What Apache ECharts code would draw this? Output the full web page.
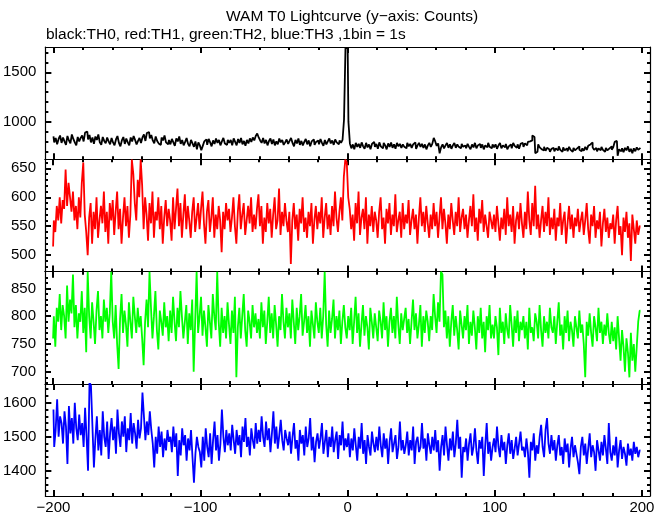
<!DOCTYPE html>
<html><head><meta charset="utf-8">
<script src="https://cdn.jsdelivr.net/npm/echarts@6/dist/echarts.min.js"></script>
<style>html,body{margin:0;padding:0;background:#fff}#c{width:669px;height:515px}</style>
</head><body><div id="c"></div>
<script>
// Bin start time (s) of the first value; 1 bin = 1 s
const binStart = -200;
const binWidth = 1;

const th0 = [
850,790,835,770,825,860,785,840,800,765,855,810,780,870,825,790,760,845,800,835,
860,800,890,900,820,865,790,840,775,850,815,870,790,765,845,805,780,840,800,770,
835,790,760,820,855,785,750,810,845,775,830,790,760,840,800,855,815,770,805,835,
785,840,870,805,885,895,830,865,810,780,850,805,780,765,840,810,860,790,770,815,
770,825,790,755,830,800,850,775,815,760,795,835,775,750,815,780,745,800,720,790,
760,710,755,800,820,765,825,790,750,810,775,830,785,815,760,800,835,780,765,815,
785,815,760,830,795,760,825,785,835,770,805,755,815,780,830,795,840,810,855,880,
840,810,785,835,780,815,760,805,830,775,820,760,800,770,830,790,815,765,790,820,
775,805,835,785,750,815,780,830,765,805,760,795,825,770,810,750,800,820,765,795,
810,770,825,785,755,815,770,800,830,780,810,765,820,790,770,810,785,815,1020,1745,
1745,1000,780,730,770,720,785,745,775,735,790,750,725,785,740,770,720,775,795,745,
775,725,790,750,730,785,760,720,780,745,790,735,770,725,785,750,775,735,770,745,
730,785,750,775,735,770,790,725,760,785,745,775,735,770,720,760,785,745,775,835,
800,755,780,680,740,770,730,760,785,735,770,725,760,785,735,770,745,730,775,745,
760,730,775,745,720,770,740,785,730,760,775,735,770,720,760,740,785,745,730,770,
740,770,725,760,785,730,760,740,775,720,750,770,730,785,755,735,770,725,775,785,
745,780,760,795,800,810,860,845,680,695,770,740,720,710,745,705,735,720,695,725,
735,700,730,710,750,715,695,740,710,730,700,745,715,695,735,710,730,750,715,700,
730,705,745,715,755,770,790,740,715,735,700,730,710,745,715,695,735,710,730,750,
715,740,795,805,655,720,700,730,690,735,710,750,695,725,680,730,700,740,715,735
];
const th1 = [
515,560,540,585,560,600,555,595,580,648,585,625,600,575,610,560,585,545,600,565,
625,660,570,540,500,565,590,520,575,545,600,530,560,585,555,610,540,575,520,590,
560,595,535,575,610,545,580,520,565,600,550,585,530,570,665,640,590,560,630,600,
665,620,545,600,570,525,590,555,610,530,575,560,600,545,585,520,565,595,550,580,
560,525,600,545,580,615,550,590,530,570,605,545,585,560,530,575,600,540,565,590,
545,580,610,555,520,575,595,540,565,600,530,570,545,585,560,505,575,545,590,560,
580,540,565,600,550,520,575,605,545,570,590,535,560,585,555,600,540,570,545,580,
605,550,585,520,565,540,590,555,580,530,570,600,545,560,615,535,575,550,590,560,
540,575,485,560,590,545,570,525,580,555,600,540,565,530,575,550,590,520,560,585,
545,575,555,600,530,565,590,545,570,535,585,550,610,565,540,575,600,560,635,665,
660,600,580,545,570,525,590,555,610,535,565,580,545,600,520,570,550,585,540,575,
560,530,575,600,545,565,520,580,555,590,535,570,550,605,540,560,575,530,590,545,
570,555,595,535,560,580,545,570,520,565,600,550,575,540,585,555,530,570,545,590,
550,575,530,565,600,545,580,555,520,570,545,590,560,535,575,550,600,540,565,580,
545,570,530,560,585,550,605,540,565,525,580,555,595,540,570,550,530,575,560,545,
570,540,585,555,525,565,545,580,535,600,550,570,540,585,520,560,575,545,590,555,
530,575,545,610,560,535,590,550,620,545,570,530,560,585,540,575,550,600,535,565,
545,580,525,565,550,590,535,560,575,520,555,585,545,570,530,565,550,580,540,560,
575,535,560,590,545,520,570,550,585,530,560,545,575,515,555,580,540,565,530,555,
545,570,520,560,585,535,550,500,565,540,575,530,555,490,570,545,520,560,535,550
];
const th2 = [
760,800,745,815,790,840,775,820,800,760,855,790,830,805,875,780,820,760,805,790,
845,770,815,735,880,800,760,825,790,750,810,845,775,800,760,830,790,815,770,805,
880,790,760,820,750,705,795,840,770,810,785,745,825,790,760,835,800,770,815,780,
800,760,712,790,830,780,880,815,760,800,845,775,740,810,790,765,825,780,800,755,
810,770,835,790,755,815,780,845,800,760,790,820,750,805,775,830,700,790,880,770,
800,835,765,810,780,745,820,790,760,840,800,775,880,790,745,815,770,800,760,825,
785,750,810,770,835,690,780,815,760,800,840,775,745,810,790,760,820,780,805,770,
795,760,825,780,810,750,790,835,770,805,760,820,785,745,800,775,840,790,760,815,
780,805,760,830,790,750,815,775,800,840,765,790,820,770,800,745,810,785,760,825,
790,770,815,760,800,880,785,745,810,770,795,830,760,800,775,810,750,790,820,780,
760,800,775,815,750,790,835,770,805,745,785,820,765,800,780,740,815,790,760,805,
780,755,810,790,760,825,775,800,745,790,815,770,800,760,835,785,750,805,775,795,
815,770,795,750,790,830,775,805,760,785,820,745,800,770,810,790,755,800,775,840,
800,770,825,790,880,875,780,810,760,800,745,790,820,765,800,775,740,810,785,760,
800,775,820,750,790,765,810,780,740,800,770,815,760,790,735,800,775,820,760,785,
760,800,780,730,815,770,790,750,805,775,760,820,785,745,800,770,810,755,790,775,
800,760,790,740,815,770,780,755,805,790,760,820,775,745,800,770,790,760,815,780,
770,800,750,790,825,765,785,740,800,770,810,755,790,775,745,800,780,760,810,770,
785,750,690,790,765,805,770,745,800,780,755,815,770,790,750,785,765,805,770,750,
790,755,780,740,800,760,720,775,745,700,760,735,690,770,720,750,700,745,790,810
];
const th3 = [
1580,1470,1520,1610,1500,1560,1540,1480,1575,1530,1420,1590,1510,1555,1480,1600,1525,1490,1565,1505,
1540,1470,1585,1500,1400,1660,1650,1530,1410,1495,1560,1460,1520,1445,1575,1500,1470,1545,1435,1510,
1555,1490,1530,1450,1580,1510,1470,1545,1500,1560,1455,1525,1490,1570,1480,1540,1510,1465,1550,1495,
1525,1630,1560,1490,1545,1505,1575,1520,1480,1410,1500,1450,1530,1470,1515,1440,1495,1460,1520,1485,
1500,1455,1530,1470,1510,1385,1490,1445,1525,1475,1505,1430,1495,1460,1520,1440,1365,1450,1500,1470,
1455,1410,1500,1430,1525,1470,1440,1510,1420,1490,1545,1460,1505,1430,1480,1580,1500,1455,1520,1475,
1510,1460,1535,1490,1450,1520,1475,1505,1440,1530,1485,1555,1470,1500,1445,1525,1490,1465,1540,1480,
1520,1485,1560,1500,1470,1545,1490,1525,1455,1510,1575,1480,1530,1465,1505,1550,1490,1460,1520,1495,
1475,1515,1450,1500,1540,1465,1490,1430,1520,1480,1505,1445,1530,1470,1495,1555,1460,1500,1425,1485,
1510,1465,1495,1540,1450,1485,1520,1440,1500,1470,1530,1455,1490,1515,1435,1505,1475,1545,1460,1495,
1470,1510,1440,1495,1460,1525,1475,1430,1500,1465,1540,1450,1490,1420,1505,1470,1445,1515,1480,1455,
1500,1460,1530,1475,1440,1510,1465,1495,1420,1485,1525,1455,1480,1505,1435,1470,1545,1460,1490,1450,
1475,1515,1445,1490,1460,1530,1420,1485,1500,1455,1470,1540,1465,1495,1430,1510,1475,1450,1500,1460,
1520,1455,1490,1400,1470,1505,1445,1530,1475,1430,1495,1460,1515,1440,1480,1550,1465,1500,1380,1470,
1455,1495,1430,1480,1510,1445,1470,1525,1460,1420,1490,1465,1500,1385,1475,1540,1450,1485,1430,1470,
1495,1455,1530,1470,1440,1505,1460,1485,1420,1475,1510,1450,1490,1435,1465,1500,1445,1480,1515,1460,
1470,1440,1495,1455,1380,1485,1460,1510,1430,1475,1450,1500,1535,1470,1440,1520,1555,1480,1450,1505,
1460,1490,1430,1475,1505,1445,1470,1420,1495,1455,1480,1410,1465,1500,1440,1475,1450,1425,1390,1470,
1500,1445,1480,1420,1465,1510,1440,1475,1455,1400,1490,1460,1430,1485,1445,1505,1465,1420,1540,1455,
1430,1475,1445,1500,1410,1460,1490,1435,1470,1450,1415,1480,1445,1465,1430,1485,1450,1470,1440,1460
];

const xMajorTicks = [-200, -100, 0, 100, 200];
const xMinorTicks = [-200,-180,-160,-140,-120,-100,-80,-60,-40,-20,0,20,40,60,80,100,120,140,160,180,200];
const yMajorTicks = [
  [1000, 1500],
  [500, 550, 600, 650],
  [700, 750, 800, 850],
  [1400, 1500, 1600]
];
const yMinorTicks = [
  [700,800,900,1000,1100,1200,1300,1400,1500,1600,1700],
  [480,490,500,510,520,530,540,550,560,570,580,590,600,610,620,630,640,650,660],
  [680,690,700,710,720,730,740,750,760,770,780,790,800,810,820,830,840,850,860,870],
  [1340,1360,1380,1400,1420,1440,1460,1480,1500,1520,1540,1560,1580,1600,1620,1640]
];
const yRanges = [[619, 1756], [471.7, 665.5], [678, 880], [1326, 1655]];
const seriesNames = ['TH0', 'TH1', 'TH2', 'TH3'];
const seriesData = [th0, th1, th2, th3];
const colors = ['#000000', '#ff0000', '#00ff00', '#0000ff'];

const FONT = 'Liberation Sans';
const panelTops = [47, 159.3, 271.7, 384];
const panelH = 112.3;

const grid = [], xAxis = [], yAxis = [], series = [];
const minus = v => String(v).replace('-', '\u2212');
const plain = v => String(v);

for (let g = 0; g < 4; g++) {
  grid.push({left: 45, width: 605, top: panelTops[g], height: panelH});
  ['bottom', 'top'].forEach(pos => {
    xAxis.push({
      type: 'value', gridIndex: g, position: pos, min: -205.5, max: 205.5,
      axisLine: {show: true, onZero: false, lineStyle: {color: '#000', width: 1.2}},
      axisTick: {show: true, inside: true, length: 6, customValues: xMajorTicks, lineStyle: {color: '#000', width: 2}},
      axisLabel: {show: pos === 'bottom' && g === 3, customValues: xMajorTicks, formatter: minus,
        color: '#000', fontFamily: FONT, fontSize: 15, margin: 4},
      splitLine: {show: false}
    });
    xAxis.push({
      type: 'value', gridIndex: g, position: pos, min: -205.5, max: 205.5,
      axisLine: {show: false, onZero: false},
      axisTick: {show: true, inside: true, length: 3, customValues: xMinorTicks, lineStyle: {color: '#000', width: 2}},
      axisLabel: {show: false}, splitLine: {show: false}
    });
  });
  ['left', 'right'].forEach(pos => {
    yAxis.push({
      type: 'value', gridIndex: g, position: pos, min: yRanges[g][0], max: yRanges[g][1],
      axisLine: {show: true, onZero: false, lineStyle: {color: '#000', width: 1.2}},
      axisTick: {show: true, inside: true, length: 6, customValues: yMajorTicks[g], lineStyle: {color: '#000', width: 2}},
      axisLabel: {show: pos === 'left', customValues: yMajorTicks[g], formatter: plain, color: '#000',
        fontFamily: FONT, fontSize: 15, margin: 9},
      splitLine: {show: false}
    });
    yAxis.push({
      type: 'value', gridIndex: g, position: pos, min: yRanges[g][0], max: yRanges[g][1],
      axisLine: {show: false, onZero: false},
      axisTick: {show: true, inside: true, length: 3, customValues: yMinorTicks[g], lineStyle: {color: '#000', width: 2}},
      axisLabel: {show: false}, splitLine: {show: false}
    });
  });
  series.push({
    name: seriesNames[g], type: 'line', xAxisIndex: g * 4, yAxisIndex: g * 4,
    data: seriesData[g].map((v, i) => [binStart + i * binWidth, v]),
    step: 'middle', showSymbol: false, symbol: 'none', sampling: null,
    lineStyle: {color: colors[g], width: 1.8}, clip: true, silent: true
  });
}

const chart = echarts.init(document.getElementById('c'), null, {renderer: 'canvas'});
chart.setOption({
  animation: false,
  backgroundColor: '#fff',
  grid, xAxis, yAxis, series,
  graphic: [
    {type: 'text', left: 226, top: 9, style: {text: 'WAM T0 Lightcurve (y\u2212axis: Counts)', fill: '#000', font: '15.5px "Liberation Sans"'}},
    {type: 'text', left: 46, top: 27, style: {text: 'black:TH0, red:TH1, green:TH2, blue:TH3 ,1bin = 1s', fill: '#000', font: '15.5px "Liberation Sans"'}}
  ]
});
</script>
</body></html>
